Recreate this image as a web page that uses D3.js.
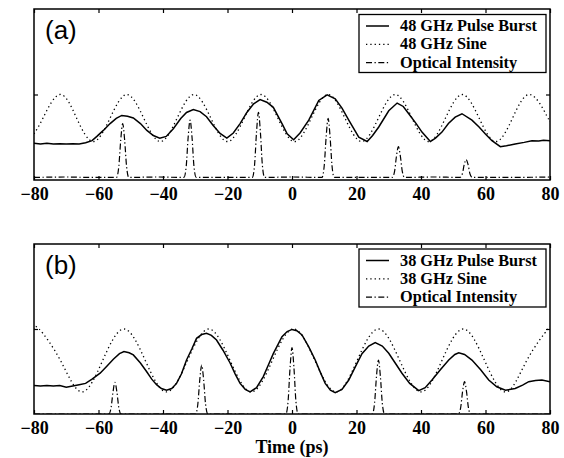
<!DOCTYPE html>
<html>
<head>
<meta charset="utf-8">
<script src="https://cdn.jsdelivr.net/npm/d3@7/dist/d3.min.js"></script>
<style>
  body { margin: 0; background: #fff; }
  svg { display: block; }
  .tick-label text { font-family: "Liberation Serif", "Times New Roman", serif; font-weight: bold; font-size: 18px; }
  .legend text { font-family: "Liberation Serif", "Times New Roman", serif; font-weight: bold; font-size: 16.3px; }
</style>
</head>
<body>
<div id="chart"></div>
<script>
// time axis (ps) and tick labels
const xTicks = [-80, -60, -40, -20, 0, 20, 40, 60, 80];
const yTicks = [1];

// panel (a) : 48 GHz
const burstA = [[-80,0.43],[-78,0.42],[-76,0.43],[-74,0.42],[-72,0.425],[-70,0.42],[-68,0.425],[-66,0.42],[-64,0.435],[-62,0.46],[-60.5,0.51],[-58.5,0.58],[-56.4,0.66],[-54.5,0.72],[-52.8,0.755],[-51,0.745],[-49.2,0.725],[-47,0.66],[-45,0.58],[-43,0.52],[-41,0.49],[-39,0.51],[-36.8,0.6],[-34.5,0.72],[-32.7,0.79],[-30.6,0.825],[-28.5,0.8],[-26.5,0.74],[-24.5,0.64],[-22.3,0.545],[-20.2,0.49],[-18.2,0.55],[-16.1,0.66],[-14,0.79],[-11.9,0.89],[-9.9,0.94],[-7.8,0.91],[-5.8,0.85],[-3.1,0.66],[-1.5,0.54],[0.5,0.47],[2.5,0.55],[5.2,0.7],[8.3,0.93],[10.9,0.995],[13.4,0.95],[15.5,0.84],[17.6,0.7],[20.7,0.5],[23.3,0.45],[25,0.52],[26.9,0.62],[30,0.81],[32.6,0.9],[34.5,0.86],[36.2,0.775],[38.5,0.66],[40.3,0.56],[42.9,0.45],[44.5,0.49],[46.5,0.56],[48.5,0.66],[50.6,0.735],[52.7,0.775],[55.8,0.7],[58,0.62],[59.9,0.54],[62,0.46],[64.6,0.39],[66.5,0.4],[69.2,0.42],[72,0.44],[74.4,0.46],[76.5,0.455],[78,0.465],[80,0.46]];
const sineA = [[-80,0.54],[-77.2,0.725],[-72,1],[-66.8,0.725],[-61.6,0.45],[-56.4,0.725],[-51.2,1],[-46,0.725],[-40.8,0.45],[-35.6,0.725],[-30.4,1],[-25.2,0.725],[-20,0.45],[-14.8,0.725],[-9.6,1],[-4.4,0.725],[0.8,0.45],[6,0.725],[11.2,1],[16.4,0.725],[21.6,0.45],[26.8,0.725],[32,1],[37.2,0.725],[42.4,0.45],[47.6,0.725],[52.8,1],[58,0.725],[63.2,0.45],[68.4,0.725],[73.8,1],[79,0.75],[80,0.69]];
const opticalA = [[-80,0.03],[-70,0.035],[-62,0.03],[-54.4,0.03],[-53.7,0.16],[-53.1,0.47],[-52.5,0.66],[-51.9,0.47],[-51.3,0.16],[-50.6,0.03],[-42,0.035],[-33.5,0.03],[-32.8,0.16],[-32.2,0.5],[-31.6,0.7],[-31,0.5],[-30.4,0.16],[-29.7,0.03],[-21,0.03],[-12.3,0.03],[-11.6,0.18],[-11,0.56],[-10.4,0.79],[-9.8,0.56],[-9.2,0.18],[-8.5,0.03],[0,0.035],[9.3,0.03],[10,0.17],[10.6,0.51],[11.2,0.72],[11.8,0.51],[12.4,0.17],[13.1,0.03],[22,0.03],[31.1,0.03],[31.8,0.1],[32.4,0.28],[33,0.39],[33.6,0.28],[34.2,0.1],[34.9,0.03],[44,0.035],[52.1,0.03],[52.8,0.07],[53.4,0.18],[54,0.24],[54.6,0.18],[55.2,0.07],[55.9,0.03],[66,0.03],[80,0.035]];

// panel (b) : 38 GHz
const burstB = [[-80,0.335],[-78,0.33],[-76,0.335],[-74,0.33],[-72,0.335],[-70,0.315],[-68,0.33],[-66,0.345],[-64,0.36],[-62,0.41],[-59.5,0.48],[-57.5,0.56],[-55.4,0.645],[-53.5,0.71],[-52.1,0.735],[-50.5,0.72],[-49.2,0.695],[-47,0.6],[-45.1,0.5],[-43.5,0.41],[-42,0.345],[-40.5,0.3],[-38.9,0.28],[-37.3,0.3],[-35.8,0.36],[-34.3,0.47],[-32.7,0.635],[-31,0.77],[-29.6,0.89],[-28,0.935],[-26.5,0.95],[-25,0.925],[-23.4,0.87],[-21.4,0.75],[-19.2,0.6],[-17.6,0.47],[-16.1,0.36],[-14.5,0.29],[-13,0.26],[-11,0.31],[-8.9,0.44],[-7.3,0.58],[-5.8,0.71],[-3.1,0.91],[-1.5,0.97],[0,0.995],[1.5,0.98],[3.1,0.93],[5.2,0.79],[7.2,0.635],[8.8,0.49],[10.3,0.36],[11.9,0.28],[13.4,0.25],[15.5,0.29],[17.6,0.4],[19.7,0.56],[21.7,0.71],[23.8,0.8],[25.8,0.84],[28,0.8],[30,0.715],[32,0.6],[34.1,0.48],[36.5,0.36],[39.3,0.275],[41.3,0.31],[43.4,0.4],[46,0.52],[48.6,0.635],[50.5,0.7],[51.7,0.72],[53.5,0.7],[55.8,0.635],[58.5,0.52],[61,0.4],[63.5,0.32],[66.2,0.28],[69.2,0.3],[71.5,0.34],[73.4,0.38],[75.5,0.395],[77.5,0.4],[80,0.38]];
const sineB = [[-80,0.99],[-78.4,1],[-71.8,0.63],[-65.2,0.26],[-58.7,0.63],[-52.1,1],[-45.5,0.63],[-38.9,0.26],[-32.4,0.63],[-25.8,1],[-19.2,0.63],[-12.6,0.26],[-6.1,0.63],[0.5,1],[7.1,0.63],[13.7,0.26],[20.2,0.63],[26.8,1],[33.4,0.63],[40,0.26],[46.5,0.63],[53.1,1],[59.7,0.63],[66.3,0.26],[72.8,0.63],[79.4,1],[80,1]];
const opticalB = [[-80,0],[-56.8,0],[-56.1,0.075],[-55.5,0.26],[-54.9,0.373],[-54.3,0.26],[-53.7,0.075],[-53,0],[-29.9,0],[-29.2,0.115],[-28.6,0.4],[-28,0.576],[-27.4,0.4],[-26.8,0.115],[-26.1,0],[-1.9,0],[-1.2,0.156],[-0.6,0.546],[0,0.78],[0.6,0.546],[1.2,0.156],[1.9,0],[24.9,0],[25.6,0.127],[26.2,0.445],[26.8,0.635],[27.4,0.445],[28,0.127],[28.7,0],[51.6,0],[52.3,0.076],[52.9,0.266],[53.5,0.38],[54.1,0.266],[54.7,0.076],[55.4,0],[80,0]];

const legendA = ['48 GHz Pulse Burst', '48 GHz Sine', 'Optical Intensity'];
const legendB = ['38 GHz Pulse Burst', '38 GHz Sine', 'Optical Intensity'];

const W = 564, H = 458;
const left = 34, right = 550;

const svg = d3.select('#chart').append('svg')
  .attr('width', W)
  .attr('height', H);

const styles = [
  { dash: null, curve: d3.curveLinear, width: 1.5 },
  { dash: '1.3,3', curve: d3.curveNatural, width: 1.3 },
  { dash: '6,2.5,1.3,2.5', curve: d3.curveMonotoneX, width: 1.2 }
];

function drawPanel(cfg) {
  const x = d3.scaleLinear().domain([-80, 80]).range([left, right]);
  const y = d3.scaleLinear().domain([0, 2]).range([cfg.bottom, cfg.top]);
  const g = svg.append('g');

  g.append('clipPath').attr('id', cfg.id)
    .append('rect')
    .attr('x', left).attr('y', cfg.top)
    .attr('width', right - left).attr('height', cfg.bottom - cfg.top);

  const plots = g.append('g').attr('clip-path', `url(#${cfg.id})`);
  cfg.series.forEach((data, i) => {
    const st = styles[i];
    const line = d3.line().x(d => x(d[0])).y(d => y(d[1])).curve(st.curve);
    plots.append('path')
      .datum(data)
      .attr('d', line)
      .attr('fill', 'none')
      .attr('stroke', '#000')
      .attr('stroke-width', st.width)
      .attr('stroke-dasharray', st.dash);
  });

  // ticks inside the frame
  g.append('g')
    .attr('class', 'tick-label')
    .attr('transform', `translate(0,${cfg.bottom})`)
    .call(d3.axisBottom(x).tickValues(xTicks).tickSizeInner(-4).tickSizeOuter(0).tickPadding(7.5)
      .tickFormat(d3.format('d')))
    .call(a => a.select('.domain').remove())
    .call(a => a.selectAll('line').attr('stroke-width', 1.2));

  g.append('g')
    .attr('transform', `translate(0,${cfg.top})`)
    .call(d3.axisTop(x).tickValues(xTicks).tickSizeInner(-4).tickSizeOuter(0).tickFormat(''))
    .call(a => a.select('.domain').remove())
    .call(a => a.selectAll('line').attr('stroke-width', 1.2));

  g.append('g')
    .attr('transform', `translate(${left},0)`)
    .call(d3.axisLeft(y).tickValues(yTicks).tickSizeInner(-4).tickSizeOuter(0).tickFormat(''))
    .call(a => a.select('.domain').remove())
    .call(a => a.selectAll('line').attr('stroke-width', 1.2));

  g.append('g')
    .attr('transform', `translate(${right},0)`)
    .call(d3.axisRight(y).tickValues(yTicks).tickSizeInner(-4).tickSizeOuter(0).tickFormat(''))
    .call(a => a.select('.domain').remove())
    .call(a => a.selectAll('line').attr('stroke-width', 1.2));

  g.append('rect')
    .attr('x', left).attr('y', cfg.top)
    .attr('width', right - left).attr('height', cfg.bottom - cfg.top)
    .attr('fill', 'none')
    .attr('stroke', '#000')
    .attr('stroke-width', 1.5);

  // panel letter
  g.append('text')
    .attr('x', 45)
    .attr('y', cfg.top + 30)
    .attr('font-family', '"Liberation Sans", Arial, sans-serif')
    .attr('font-size', 26)
    .text(cfg.letter);

  // legend
  const lg = g.append('g').attr('class', 'legend');
  lg.append('rect')
    .attr('x', 359).attr('y', cfg.legendTop)
    .attr('width', 187).attr('height', 58)
    .attr('fill', '#fff')
    .attr('stroke', '#000')
    .attr('stroke-width', 1.3);
  cfg.legend.forEach((label, i) => {
    const by = cfg.legendTop + 16.5 + i * 18.3;
    const st = styles[i];
    lg.append('line')
      .attr('x1', 366).attr('x2', 389)
      .attr('y1', by - 5).attr('y2', by - 5)
      .attr('stroke', '#000')
      .attr('stroke-width', st.width)
      .attr('stroke-dasharray', st.dash);
    lg.append('text')
      .attr('x', 400)
      .attr('y', by)
      .text(label);
  });
}

drawPanel({ id: 'clipA', top: 9, bottom: 180, letter: '(a)', legendTop: 14.5,
  series: [burstA, sineA, opticalA], legend: legendA });
drawPanel({ id: 'clipB', top: 244, bottom: 414, letter: '(b)', legendTop: 249,
  series: [burstB, sineB, opticalB], legend: legendB });

svg.append('text')
  .attr('x', (left + right) / 2)
  .attr('y', 453)
  .attr('text-anchor', 'middle')
  .attr('font-family', '"Liberation Serif", "Times New Roman", serif')
  .attr('font-weight', 'bold')
  .attr('font-size', 18)
  .text('Time (ps)');
</script>
</body>
</html>
